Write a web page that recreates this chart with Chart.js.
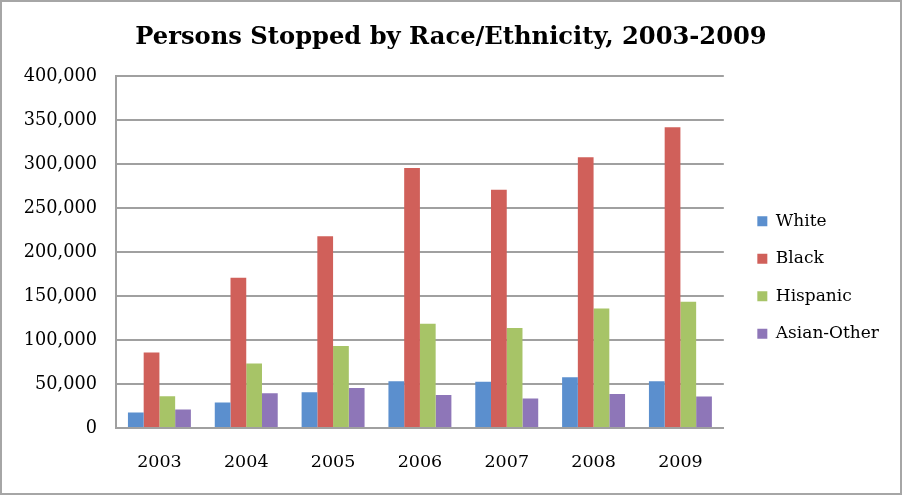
<!DOCTYPE html>
<html>
<head>
<meta charset="utf-8">
<script src="https://cdn.jsdelivr.net/npm/chart.js@4"></script>
<style>
  html, body { margin: 0; padding: 0; background: #fff; }
  #wrap { width: 902px; height: 495px; }
</style>
</head>
<body>
<div id="wrap"><canvas id="c" width="902" height="495"></canvas></div>
<script>
const years = ['2003', '2004', '2005', '2006', '2007', '2008', '2009'];
const white = [17500, 28900, 40600, 53100, 52700, 57600, 53100];
const black = [85700, 170900, 217800, 295500, 270900, 307600, 341700];
const hispanic = [36000, 73200, 93200, 118600, 113600, 135700, 143600];
const asianOther = [20900, 39400, 45500, 37500, 33400, 38600, 35700];
const seriesNames = ['White', 'Black', 'Hispanic', 'Asian-Other'];
const seriesColors = ['#5B8FCE', '#D0605A', '#A7C467', '#8E76B8'];
const titleText = 'Persons Stopped by Race/Ethnicity, 2003-2009';

const serif = "'DejaVu Serif', 'Liberation Serif', serif";

const frame = {
  id: 'frame',
  beforeDraw(chart) {
    const ctx = chart.ctx;
    ctx.save();
    ctx.fillStyle = '#fff';
    ctx.fillRect(0, 0, chart.width, chart.height);
    ctx.restore();
  },
  afterDraw(chart) {
    const ctx = chart.ctx;
    ctx.save();
    ctx.strokeStyle = '#a6a6a6';
    ctx.lineWidth = 2;
    ctx.strokeRect(1, 1, chart.width - 2, chart.height - 2);
    ctx.restore();
  },
  afterLayout(chart) {
    const lg = chart.legend;
    if (lg) { lg.left += 13; lg.right += 13; lg.top += 30; lg.bottom += 30; }
    const tb = chart.titleBlock;
    if (tb) { tb.right += 26; tb.width += 26; }
  }
};

const datasets = [white, black, hispanic, asianOther].map((d, i) => ({
  label: seriesNames[i],
  data: d,
  backgroundColor: seriesColors[i],
  borderWidth: 0,
  barPercentage: 1.0,
  categoryPercentage: 0.725
}));

new Chart(document.getElementById('c'), {
  type: 'bar',
  data: { labels: years, datasets },
  plugins: [frame],
  options: {
    responsive: false,
    animation: false,
    devicePixelRatio: 1,
    layout: { padding: { left: 0, right: 26, top: 0, bottom: 0 } },
    plugins: {
      title: {
        display: true,
        text: titleText,
        color: '#000',
        font: { family: serif, size: 24.2, weight: 'bold', lineHeight: 1.2 },
        padding: { top: 23, bottom: 24 }
      },
      legend: {
        position: 'right',
        align: 'center',
        labels: {
          color: '#000',
          font: { family: serif, size: 17 },
          boxWidth: 10,
          boxHeight: 10,
          padding: 20.5
        }
      },
      tooltip: { enabled: false }
    },
    scales: {
      x: {
        grid: { display: false, drawTicks: false },
        border: { display: true, color: '#a0a0a0', width: 2 },
        ticks: { color: '#000', font: { family: serif, size: 17.5 }, padding: 24, maxRotation: 0 },
        afterFit(s) { s.height = 67; }
      },
      y: {
        min: 0, max: 400000,
        grid: { color: '#a0a0a0', lineWidth: 2, drawTicks: false },
        border: { display: true, color: '#a0a0a0', width: 2 },
        ticks: {
          stepSize: 50000,
          color: '#000',
          font: { family: serif, size: 17.7 },
          padding: 19,
          callback: v => v.toLocaleString('en-US')
        },
        afterFit(s) { s.width = 116; }
      }
    }
  }
});
</script>
</body>
</html>
